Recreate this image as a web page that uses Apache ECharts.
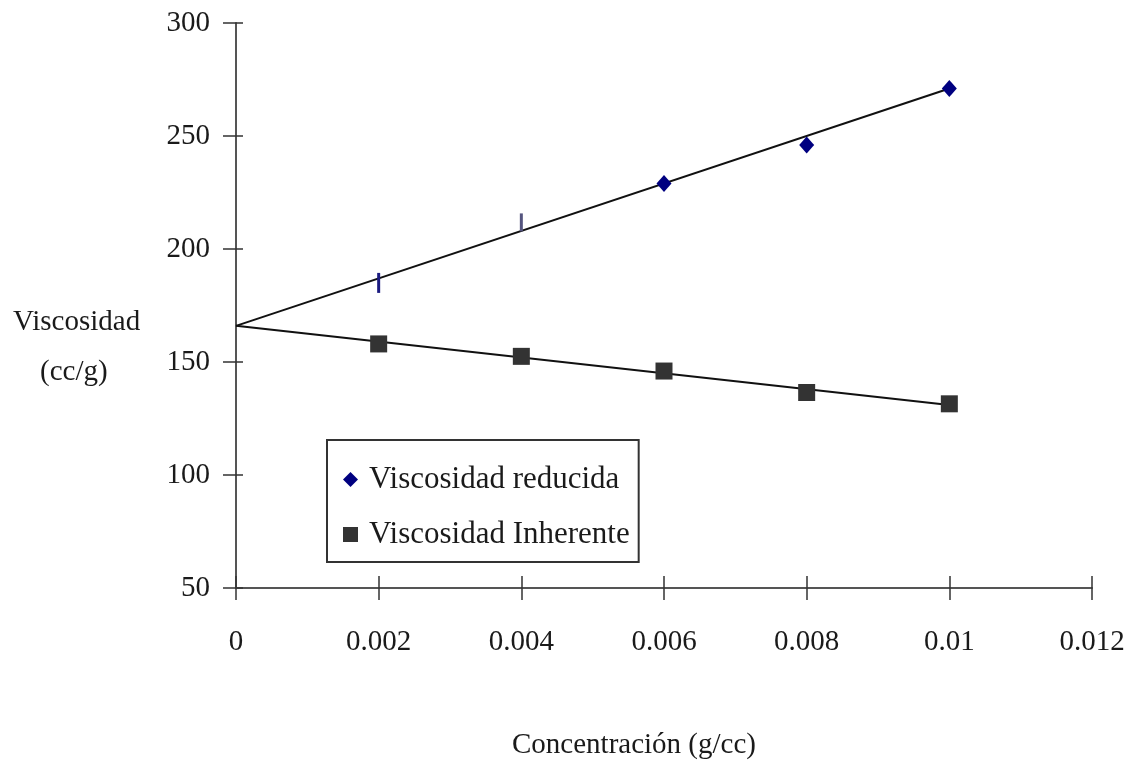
<!DOCTYPE html>
<html>
<head>
<meta charset="utf-8">
<script src="https://cdn.jsdelivr.net/npm/echarts@6/dist/echarts.min.js"></script>
<style>html,body{margin:0;padding:0;background:#fff;}#c{width:1133px;height:760px;}</style>
</head>
<body>
<div id="c"></div>
<script>
// Data
const concentration = [0.002, 0.004, 0.006, 0.008, 0.010];
const reducedViscosity = [185, 210, 229, 246, 271];
const inherentViscosity = [158, 152.5, 146, 136.5, 131.5];
const trendX = [0, 0.010];
const trendReduced = [166, 271];
const trendInherent = [166, 131];
const xTicks = [0, 0.002, 0.004, 0.006, 0.008, 0.01, 0.012];
const yTicks = [50, 100, 150, 200, 250, 300];

const FONT = '"Liberation Serif", "Times New Roman", serif';
const FS = 29;
const TXT = '#1a1a1a';
const chart = echarts.init(document.getElementById('c'));

function xyPairs(xs, ys){ return xs.map((x,i)=>[x, ys[i]]); }

const reducedData = xyPairs(concentration, reducedViscosity).map((p,i)=>{
  if (i === 0) return {value:p, symbol:'rect', symbolSize:[3,20], itemStyle:{color:'#1a1a80'}};
  if (i === 1) return {value:p, symbol:'rect', symbolSize:[3,18], itemStyle:{color:'#55557f'}, symbolOffset:[0,-4]};
  return {value:p};
});

const axisCommon = {
  type:'value',
  axisLine:{show:true, lineStyle:{color:'#555', width:2}},
  splitLine:{show:false},
  axisTick:{show:true, lineStyle:{color:'#333', width:1.5}},
};

chart.setOption({
  animation:false,
  backgroundColor:'#fff',
  grid:{left:236, right:41, top:23, bottom:172, containLabel:false},
  xAxis:[
    Object.assign({}, axisCommon, {
      min:0, max:0.012, interval:0.002,
      axisTick:{show:true, length:12, lineStyle:{color:'#333', width:1.5}},
      axisLabel:{margin:40, fontFamily:FONT, fontSize:FS, color:TXT,
        formatter:v=>{ const i = xTicks.findIndex(t=>Math.abs(t-v)<1e-9); return i>=0 ? String(+xTicks[i].toFixed(3)) : ''; }}
    }),
    Object.assign({}, axisCommon, {
      min:0, max:0.012, interval:0.002, position:'bottom',
      axisLine:{show:false},
      axisTick:{show:true, inside:true, length:12, lineStyle:{color:'#333', width:1.5}},
      axisLabel:{show:false}
    })
  ],
  yAxis:[
    Object.assign({}, axisCommon, {
      min:50, max:300, interval:50,
      axisTick:{show:true, length:13, lineStyle:{color:'#333', width:1.5}},
      axisLabel:{margin:26, fontFamily:FONT, fontSize:FS, color:TXT,
        formatter:v=> yTicks.includes(v) ? String(v) : ''}
    }),
    Object.assign({}, axisCommon, {
      min:50, max:300, interval:50, position:'left',
      axisLine:{show:false},
      axisTick:{show:true, inside:true, length:7, lineStyle:{color:'#333', width:1.5}},
      axisLabel:{show:false}
    })
  ],
  legend:{
    left:327, top:440,
    orient:'vertical',
    data:[
      {name:'Viscosidad reducida', icon:'diamond', itemStyle:{color:'#000080'}},
      {name:'Viscosidad Inherente', icon:'rect', itemStyle:{color:'#333333'}}
    ],
    itemWidth:15, itemHeight:15, itemGap:24,
    padding:[24,9,12,16],
    borderColor:'#333', borderWidth:2, backgroundColor:'#fff',
    textStyle:{fontFamily:FONT, fontSize:31, color:TXT, padding:[0,0,0,6]}
  },
  series:[
    {type:'line', data:xyPairs(trendX, trendReduced), symbol:'none', silent:true,
     lineStyle:{color:'#111', width:2}, z:2},
    {type:'line', data:xyPairs(trendX, trendInherent), symbol:'none', silent:true,
     lineStyle:{color:'#111', width:2}, z:2},
    {name:'Viscosidad reducida', type:'scatter', data:reducedData, symbol:'diamond', symbolSize:[15,17],
     itemStyle:{color:'#000080', opacity:1}, z:3},
    {name:'Viscosidad Inherente', type:'scatter', data:xyPairs(concentration, inherentViscosity), symbol:'rect', symbolSize:17,
     itemStyle:{color:'#333333', opacity:1}, z:3}
  ],
  graphic:[
    {type:'text', x:13, y:322, style:{text:'Viscosidad', fontFamily:FONT, fontSize:FS, fill:TXT, textVerticalAlign:'middle'}},
    {type:'text', x:40, y:372, style:{text:'(cc/g)', fontFamily:FONT, fontSize:FS, fill:TXT, textVerticalAlign:'middle'}},
    {type:'text', x:512, y:745, style:{text:'Concentración (g/cc)', fontFamily:FONT, fontSize:FS, fill:TXT, textVerticalAlign:'middle'}}
  ]
});
</script>
</body>
</html>
